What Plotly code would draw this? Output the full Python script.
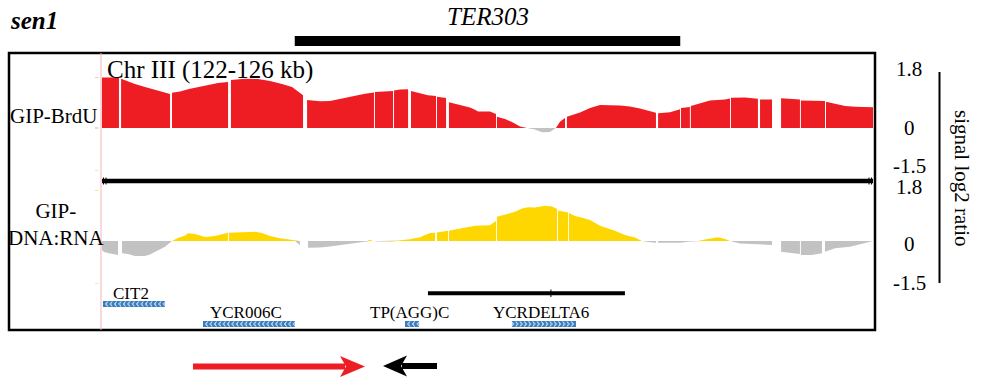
import plotly.graph_objects as go

FONT = "Liberation Serif"
W, H = 983, 378
ML, MR, MT, MB = 9, 108, 53, 48          # plot area spans x 9..875, y 53..330
PW, PH = W - ML - MR, H - MT - MB


def px(x):
    """pixel column -> paper x"""
    return (x - ML) / PW


def py(y):
    """pixel row -> paper y"""
    return (H - MB - y) / PH


# ---------------- data ----------------
region_kb = (122.0, 126.0)               # Chr III window
ter_kb = (123.0, 125.0)                  # TER303 extent

# GIP-BrdU log2 ratio (None = break between probe blocks)
brdu_pos = [
    122.000, 122.088, None,
    122.099, 122.119, 122.171, 122.223, 122.301, 122.353, None,
    122.363, 122.405, 122.451, 122.534, 122.602, 122.654, None,
    122.669, 122.742, 122.809, 122.872, 122.934, 122.986, 123.043, None,
    123.064, 123.131, 123.183, 123.287, 123.364, 123.411, None,
    123.416, 123.468, 123.510, None,
    123.515, 123.546, 123.588, None,
    123.603, 123.650, 123.691, 123.733, None,
    123.738, 123.785, None,
    123.800, 123.857, 123.909, 123.935, 123.951, 124.013, 124.044, None,
    124.049, 124.091, 124.127, 124.169, 124.205, 124.246, 124.283, 124.324, 124.350, 124.355, 124.376, 124.402, None,
    124.412, 124.480, 124.532, 124.584, 124.687, 124.739, 124.791, 124.843, 124.874, None,
    124.885, 124.947, 124.999, None,
    125.004, 125.050, None,
    125.055, 125.102, 125.154, 125.232, 125.258, None,
    125.263, 125.336, 125.403, None,
    125.414, 125.476, None,
    125.523, 125.569, 125.621, None,
    125.626, 125.683, 125.751, None,
    125.756, 125.803, 125.855, 125.907, 126.000,
]
brdu_val = [
    1.78, 1.78, None,
    1.74, 1.69, 1.55, 1.45, 1.31, 1.20, None,
    1.24, 1.29, 1.38, 1.50, 1.59, 1.62, None,
    1.69, 1.74, 1.73, 1.66, 1.55, 1.45, 1.16, None,
    0.99, 0.94, 0.95, 1.10, 1.21, 1.25, None,
    1.27, 1.28, 1.31, None,
    1.32, 1.36, 1.37, None,
    1.31, 1.24, 1.16, 1.13, None,
    1.10, 1.06, None,
    0.91, 0.81, 0.72, 0.64, 0.58, 0.58, 0.49, None,
    0.40, 0.32, 0.21, 0.05, 0.00, -0.05, -0.15, -0.14, -0.04, 0.00, 0.22, 0.35, None,
    0.40, 0.55, 0.71, 0.81, 0.79, 0.76, 0.69, 0.58, 0.54, None,
    0.52, 0.56, 0.66, None,
    0.71, 0.74, None,
    0.78, 0.88, 0.97, 1.01, 1.04, None,
    1.07, 1.08, 1.03, None,
    1.01, 1.01, None,
    1.05, 1.02, 1.01, None,
    0.97, 0.96, 0.95, None,
    0.93, 0.86, 0.78, 0.75, 0.73,
]

# GIP-DNA:RNA log2 ratio
hyb_pos = [
    122.000, 122.010, 122.042, 122.083, None,
    122.104, 122.135, 122.171, 122.223, 122.249, 122.291, 122.327, 122.363,
    122.394, 122.431, 122.446, 122.482, 122.534, 122.586, 122.654, None,
    122.659, 122.716, 122.794, 122.830, 122.872, 122.923, 122.986, 123.001, 123.027, None,
    123.069, 123.131, 123.183, 123.261, 123.313, 123.364, 123.374, 123.390, 123.406,
    123.432, 123.505, 123.525, 123.536, 123.598, 123.650, 123.676, 123.702, 123.728, None,
    123.738, 123.795, None,
    123.800, 123.857, 123.935, 124.013, 124.044, None,
    124.049, 124.091, 124.143, 124.179, 124.210, 124.246, 124.298, 124.335, 124.361, None,
    124.366, 124.418, None,
    124.423, 124.454, 124.506, 124.532, 124.584, 124.661, 124.713, 124.765, 124.802, 124.843, 124.874, None,
    124.885, 124.999, 125.050, 125.092, 125.128, 125.196, 125.232, 125.258, 125.310, 125.388, 125.476, None,
    125.523, 125.569, 125.621, None,
    125.626, 125.683, 125.735, None,
    125.751, 125.803, 125.881, 125.958, 126.000,
]
hyb_val = [
    -0.32, -0.39, -0.44, -0.49, None,
    -0.43, -0.46, -0.53, -0.53, -0.48, -0.32, -0.20, 0.00,
    0.11, 0.19, 0.27, 0.25, 0.14, 0.18, 0.29, None,
    0.29, 0.30, 0.33, 0.28, 0.18, 0.10, 0.04, 0.00, -0.14, None,
    -0.24, -0.23, -0.19, -0.11, -0.08, -0.02, 0.00, 0.04, 0.00,
    -0.02, -0.02, 0.00, 0.02, 0.06, 0.13, 0.21, 0.28, 0.29, None,
    0.30, 0.36, None,
    0.36, 0.43, 0.54, 0.56, 0.71, None,
    0.86, 0.94, 1.03, 1.15, 1.19, 1.18, 1.24, 1.22, 1.13, None,
    1.08, 1.01, None,
    0.99, 0.88, 0.79, 0.74, 0.54, 0.36, 0.21, 0.12, 0.00, -0.04, -0.06, None,
    -0.06, -0.06, -0.02, 0.00, 0.05, 0.13, 0.07, 0.00, -0.09, -0.11, -0.14, None,
    -0.38, -0.42, -0.46, None,
    -0.49, -0.49, -0.43, None,
    -0.38, -0.26, -0.20, -0.08, 0.00,
]
assert len(brdu_pos) == len(brdu_val) and len(hyb_pos) == len(hyb_val)

axis_ticks = [1.8, 0, -1.5]
axis_tick_text = ["1.8", "0", "-1.5"]

# annotated features
gene_names = ["CIT2", "YCR006C", "TP(AGG)C", "YCRDELTA6"]
gene_start = [122.005, 122.524, 123.572, 124.127]
gene_end = [122.327, 123.001, 123.645, 124.459]
gene_strand = ["-", "-", "-", "+"]
gene_row = [0, 1, 1, 1]
probe_span = (123.691, 124.713)
probe_mark = 124.329

# ---------------- geometry ----------------
KB_PER_PX = (region_kb[1] - region_kb[0]) / (873 - 102)
x_range = [region_kb[0] - (102 - ML) * KB_PER_PX,
           region_kb[1] + (ML + PW - 873) * KB_PER_PX]
UNIT = 51 / 1.8                         # pixels per log2 unit
BASE1, BASE2 = 128, 241                  # zero lines of the two tracks (pixel rows)
dom1 = [py(BASE1 + 1.5 * UNIT), py(BASE1 - 1.8 * UNIT)]
dom2 = [py(BASE2 + 1.5 * UNIT), py(BASE2 - 1.8 * UNIT)]
GENE_TOP = 286                           # gene lane: rows 286..330, in pixel rows
dom3 = [0, py(GENE_TOP)]

RED, YELLOW, GRAY = "#EE1D24", "#FFD700", "#C2C2C2"
BLUE = "#3B7EC0"

fig = go.Figure()


def blocks(pos, val):
    """split the None-separated series into contiguous probe blocks"""
    out, cur = [], ([], [])
    for p, v in zip(pos, val):
        if p is None:
            if cur[0]:
                out.append(cur)
            cur = ([], [])
        else:
            cur[0].append(p)
            cur[1].append(v)
    if cur[0]:
        out.append(cur)
    return out


def add_track(pos, val, color, yaxis):
    for bx, bv in blocks(pos, val):
        up = [max(v, 0) for v in bv]
        dn = [min(v, 0) for v in bv]
        for ys, c in ((up, color), (dn, GRAY)):
            if not any(ys):
                continue
            fig.add_trace(go.Scatter(
                x=bx, y=ys, mode="lines", fill="tozeroy", fillcolor=c,
                line=dict(width=0, color=c), yaxis=yaxis,
                hoverinfo="skip", showlegend=False))


add_track(brdu_pos, brdu_val, RED, "y")
add_track(hyb_pos, hyb_val, YELLOW, "y2")

shapes = []
ann = []


def text(t, x, y, xref="paper", yref="paper", size=21, **kw):
    d = dict(text=t, x=x, y=y, xref=xref, yref=yref, showarrow=False,
             xanchor="center", yanchor="middle",
             font=dict(family=FONT, size=size, color="black"))
    d.update(kw)
    ann.append(d)


# frame
shapes.append(dict(type="rect", xref="paper", yref="paper", x0=0, x1=1, y0=0, y1=1,
                   line=dict(color="black", width=2.5)))
# window start marker
shapes.append(dict(type="line", xref="x", yref="paper",
                   x0=region_kb[0] - KB_PER_PX, x1=region_kb[0] - KB_PER_PX, y0=0, y1=1,
                   line=dict(color="#F6B3B6", width=1)))
# chromosome bar between tracks
ychr = py(181)
shapes.append(dict(type="line", xref="x", yref="paper", x0=region_kb[0], x1=region_kb[1],
                   y0=ychr, y1=ychr, line=dict(color="black", width=4.5)))
for xk in (region_kb[0] + 1.5 * KB_PER_PX, region_kb[0] + 4 * KB_PER_PX,
           region_kb[1] - 4 * KB_PER_PX, region_kb[1] - 1.5 * KB_PER_PX):
    shapes.append(dict(type="line", xref="x", yref="paper", x0=xk, x1=xk,
                       y0=py(184.5), y1=py(177.5), line=dict(color="black", width=1)))

# small level ticks left of the tracks
for yv, c, yr in ((1.8, "#F28B8F", "y"), (0, "#BBBBBB", "y"), (-1.5, "#CCCCCC", "y"),
                  (1.8, "#F3C300", "y2"), (-1.5, "#CCCCCC", "y2")):
    shapes.append(dict(type="line", xref="paper", yref=yr, x0=px(95), x1=px(98.5),
                       y0=yv, y1=yv, line=dict(color=c, width=1)))

# TER303 bar and label
shapes.append(dict(type="rect", xref="x", yref="paper", x0=ter_kb[0], x1=ter_kb[1],
                   y0=py(46), y1=py(36), fillcolor="black", line=dict(width=0)))
text("<i>TER303</i>", (ter_kb[0] + ter_kb[1]) / 2, py(16), xref="x", size=25)

# probe span above the genes
yp = py(293.3)
shapes.append(dict(type="line", xref="x", yref="paper", x0=probe_span[0], x1=probe_span[1],
                   y0=yp, y1=yp, line=dict(color="black", width=4)))
shapes.append(dict(type="line", xref="x", yref="paper", x0=probe_mark, x1=probe_mark,
                   y0=py(297), y1=py(289.5), line=dict(color="black", width=1)))

# genes: blue boxes with strand chevrons
row_box = [(301, 307), (321, 327)]
row_label = [293, 312.5]
for name, s, e, st, r in zip(gene_names, gene_start, gene_end, gene_strand, gene_row):
    y0, y1 = row_box[r]
    shapes.append(dict(type="rect", xref="x", yref="y3", x0=s, x1=e, y0=y0, y1=y1,
                       fillcolor=BLUE, line=dict(width=0), layer="below"))
    step = 4.2 * KB_PER_PX
    n = max(2, int((e - s) / step))
    xs = [s + (e - s) * (i + 0.5) / n for i in range(n)]
    fig.add_trace(go.Scatter(
        x=xs, y=[(y0 + y1) / 2] * n, mode="markers", yaxis="y3",
        marker=dict(symbol="arrow-wide-open", size=3.5, angle=-90 if st == "-" else 90,
                    color="#E4EEF8", line=dict(color="#E4EEF8", width=0.7)),
        hoverinfo="skip", showlegend=False))
    text(name, (s + e) / 2, py(row_label[r]), xref="x", size=17, xshift=-3)

# titles and track labels
text("<b><i>sen1</i></b>", px(8), py(21), size=25, xanchor="left")
text("Chr III (122-126 kb)", px(105), py(70), size=25, xanchor="left")
text("GIP-BrdU", px(53.5), py(116))
text("GIP-<br>DNA:RNA", px(56), py(224))

# scale labels on the right
shift1 = [8, 0, 4.5]
shift2 = [3, -3, 1]
for yr, shifts in (("y", shift1), ("y2", shift2)):
    for v, t, sh in zip(axis_ticks, axis_tick_text, shifts):
        text(t, px(909), v, yref=yr, yshift=sh)
shapes.append(dict(type="line", xref="paper", yref="paper", x0=px(939.5), x1=px(939.5),
                   y0=py(283), y1=py(72), line=dict(color="black", width=2)))
text("signal log2 ratio", px(962), py(178), textangle=90)


# fork direction arrows below the frame
def arrow(x_tail, x_tip, yc, head_len, color):
    d = 1 if x_tip > x_tail else -1
    back = x_tip - d * head_len
    shapes.append(dict(type="line", xref="paper", yref="paper",
                       x0=px(x_tail), x1=px(back + d * 5), y0=py(yc), y1=py(yc),
                       line=dict(color=color, width=6)))
    path = (f"M {px(x_tip)},{py(yc)} L {px(back)},{py(yc - 10.5)} "
            f"L {px(back + d * 6)},{py(yc)} L {px(back)},{py(yc + 10.5)} Z")
    shapes.append(dict(type="path", xref="paper", yref="paper", path=path,
                       fillcolor=color, line=dict(width=0)))


arrow(193, 365, 366.5, 25, RED)
arrow(437, 383, 366, 24, "black")

fig.update_layout(
    width=W, height=H,
    margin=dict(l=ML, r=MR, t=MT, b=MB),
    paper_bgcolor="white", plot_bgcolor="white",
    xaxis=dict(range=x_range, visible=False, fixedrange=True),
    yaxis=dict(range=[-1.5, 1.8], domain=dom1, visible=False, fixedrange=True),
    yaxis2=dict(range=[-1.5, 1.8], domain=dom2, anchor="x", visible=False, fixedrange=True),
    yaxis3=dict(range=[H - MB, GENE_TOP], domain=dom3, anchor="x", visible=False,
                fixedrange=True),
    shapes=shapes, annotations=ann, showlegend=False,
)

fig.write_html("out.html", config={"displayModeBar": False})
